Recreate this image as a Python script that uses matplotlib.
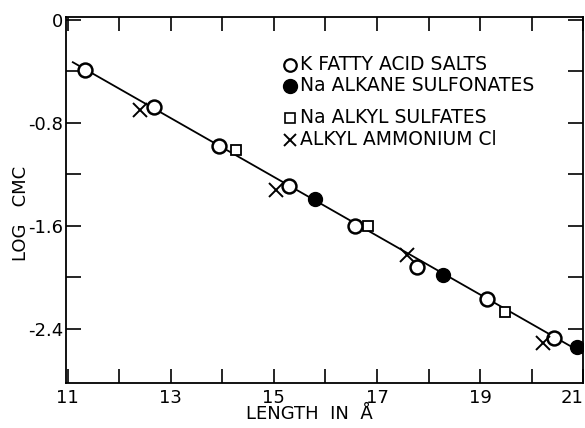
import matplotlib.pyplot as plt

# data (length in angstrom, log cmc)
fatty_x = [11.34, 12.67, 13.94, 15.29, 16.57, 17.77, 19.13, 20.43]
fatty_y = [-0.39, -0.68, -0.98, -1.29, -1.60, -1.92, -2.17, -2.47]

sulfonate_x = [15.79, 18.28, 20.87]
sulfonate_y = [-1.39, -1.98, -2.54]

sulfate_x = [14.26, 16.82, 19.48]
sulfate_y = [-1.01, -1.60, -2.27]

ammonium_x = [12.40, 15.04, 17.58, 20.21]
ammonium_y = [-0.70, -1.32, -1.83, -2.51]

fit_x = [11.1, 21.0]
fit_y = [-0.33, -2.59]

legend_labels = ["K FATTY ACID SALTS", "Na ALKANE SULFONATES",
                 "Na ALKYL SULFATES", "ALKYL AMMONIUM Cl"]

x_ticks = [11, 13, 15, 17, 19, 21]
y_ticks = [0, -0.8, -1.6, -2.4]
y_ticklabels = ["0", "-0.8", "-1.6", "-2.4"]

plt.rcParams["font.family"] = ["DejaVu Sans"]

fig = plt.figure(figsize=(5.85, 4.28), dpi=100)
ax = fig.add_axes([0.113, 0.105, 0.884, 0.855])

ax.plot(fit_x, fit_y, color="black", lw=1.3, zorder=1)

ax.plot(fatty_x, fatty_y, marker="o", ms=10, mfc="white", mec="black", mew=1.8,
        ls="none", zorder=3)
ax.plot(sulfonate_x, sulfonate_y, marker="o", ms=10, mfc="black", mec="black",
        ls="none", zorder=3)
ax.plot(sulfate_x, sulfate_y, marker="s", ms=7.5, mfc="white", mec="black",
        mew=1.3, ls="none", zorder=3)
ax.plot(ammonium_x, ammonium_y, marker="x", ms=10, mec="black", mew=1.4,
        ls="none", zorder=3)

# hand-placed legend (no frame, uneven spacing as in the original)
leg_y = [0.870, 0.813, 0.725, 0.665]
leg_styles = [
    dict(marker="o", ms=9, mfc="white", mec="black", mew=1.6),
    dict(marker="o", ms=10, mfc="black", mec="black"),
    dict(marker="s", ms=7, mfc="white", mec="black", mew=1.2),
    dict(marker="x", ms=9, mec="black", mew=1.4),
]
for yy, lab, st in zip(leg_y, legend_labels, leg_styles):
    ax.plot([0.433], [yy], transform=ax.transAxes, ls="none", clip_on=False, **st)
    ax.text(0.452, yy, lab, transform=ax.transAxes, fontsize=13.5,
            va="center", ha="left")

ax.set_xlim(10.97, 21.0)
ax.set_ylim(-2.82, 0.02)

ax.set_xticks(x_ticks)
ax.set_xticks(range(11, 22), minor=True)
ax.set_yticks(y_ticks)
ax.set_yticklabels(y_ticklabels)
ax.set_yticks([-0.4, -1.2, -2.0], minor=True)

ax.tick_params(which="both", direction="in", top=True, right=True,
               width=1.2, labelsize=13)
ax.tick_params(axis="x", which="both", length=10, pad=4)
ax.tick_params(axis="y", which="both", length=11, pad=2)

# last x label sits against the figure edge, like the original
ax.get_xticklabels()[-1].set_ha("right")

for s in ax.spines.values():
    s.set_linewidth(1.3)

ax.set_xlabel("LENGTH  IN  Å", fontsize=13)
ax.xaxis.set_label_coords(0.47, -0.06)
ax.set_ylabel("LOG   CMC", fontsize=13)
ax.yaxis.set_label_coords(-0.07, 0.464)

fig.savefig("out.png", dpi=100)
